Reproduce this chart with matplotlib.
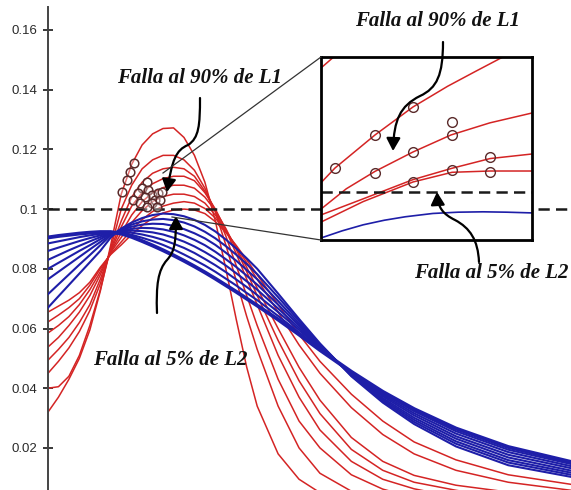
import matplotlib
matplotlib.use("Agg")
import matplotlib.pyplot as plt
from matplotlib.path import Path
from matplotlib.patches import FancyArrowPatch

# ---------------------------------------------------------------- data
# common time axis (arbitrary units)
t = [0.0, 0.2, 0.4, 0.6, 0.8, 1.0, 1.2, 1.4, 1.6, 1.8, 2.0, 2.2, 2.4, 2.6, 2.8,
     3.0, 3.2, 3.4, 3.6, 3.8, 4.0, 4.4, 4.8, 5.2, 5.8, 6.4, 7.0, 7.8, 8.8, 10.0]

# faults on line L1 (red family)
red_1 = [0.032, 0.037, 0.043, 0.050, 0.0595, 0.0725, 0.088, 0.105, 0.115, 0.1215,
         0.1252, 0.127, 0.1272, 0.124, 0.118, 0.109, 0.096, 0.080, 0.063, 0.047,
         0.034, 0.018, 0.0095, 0.005, 0.0025, 0.0012, 0.0006, 0.0003, 0.0001, 0.0]
red_2 = [0.040, 0.0405, 0.044, 0.051, 0.061, 0.073, 0.087, 0.100, 0.108, 0.1135,
         0.1165, 0.118, 0.118, 0.1165, 0.113, 0.107, 0.099, 0.088, 0.076, 0.064,
         0.053, 0.034, 0.020, 0.0115, 0.0055, 0.0027, 0.0013, 0.0005, 0.0002, 0.0]
red_3 = [0.045, 0.049, 0.0535, 0.059, 0.066, 0.075, 0.0865, 0.096, 0.104, 0.109,
         0.112, 0.1135, 0.114, 0.1135, 0.111, 0.106, 0.0995, 0.091, 0.081, 0.071,
         0.061, 0.043, 0.029, 0.020, 0.011, 0.0062, 0.0033, 0.0015, 0.0005, 0.0001]
red_4 = [0.0494, 0.053, 0.057, 0.062, 0.068, 0.0765, 0.086, 0.094, 0.101, 0.1055,
         0.1085, 0.1102, 0.111, 0.111, 0.1095, 0.1055, 0.100, 0.093, 0.085, 0.0765,
         0.068, 0.051, 0.037, 0.026, 0.0155, 0.0095, 0.0063, 0.0035, 0.0015, 0.0005]
red_5 = [0.0538, 0.057, 0.061, 0.0655, 0.071, 0.078, 0.0858, 0.092, 0.098, 0.1025,
         0.1055, 0.1072, 0.108, 0.108, 0.107, 0.104, 0.0995, 0.0935, 0.0865, 0.079,
         0.071, 0.056, 0.0425, 0.0315, 0.0195, 0.0125, 0.0085, 0.0058, 0.003, 0.0012]
red_6 = [0.0585, 0.061, 0.064, 0.068, 0.073, 0.079, 0.0855, 0.0905, 0.0955, 0.0995,
         0.1025, 0.1042, 0.105, 0.105, 0.1042, 0.102, 0.098, 0.093, 0.087, 0.0805,
         0.0735, 0.060, 0.047, 0.036, 0.0235, 0.0155, 0.0108, 0.0075, 0.0052, 0.003]
red_7 = [0.0622, 0.0645, 0.067, 0.070, 0.0745, 0.080, 0.085, 0.089, 0.093, 0.0965,
         0.0992, 0.101, 0.102, 0.1025, 0.102, 0.1002, 0.097, 0.0925, 0.0875, 0.082,
         0.0765, 0.0655, 0.0545, 0.045, 0.0335, 0.0245, 0.018, 0.0125, 0.0085, 0.0058]
red_8 = [0.0655, 0.0675, 0.0695, 0.072, 0.0755, 0.0805, 0.0848, 0.088, 0.0915, 0.0945,
         0.097, 0.0987, 0.0997, 0.100, 0.0997, 0.0985, 0.0958, 0.0922, 0.0878, 0.083,
         0.078, 0.068, 0.058, 0.049, 0.038, 0.029, 0.022, 0.016, 0.011, 0.0078]

# faults on line L2 (blue family)
blue_1 = [0.0905, 0.0910, 0.0914, 0.0918, 0.0921, 0.0923, 0.0923, 0.0918, 0.0907, 0.0893,
          0.0878, 0.0862, 0.0845, 0.0827, 0.0808, 0.0788, 0.0767, 0.0745, 0.0723, 0.0700,
          0.0677, 0.0630, 0.0580, 0.0528, 0.0455, 0.0388, 0.0330, 0.0265, 0.0203, 0.0153]
blue_2 = [0.0885, 0.0892, 0.0899, 0.0906, 0.0912, 0.0917, 0.0921, 0.0920, 0.0914, 0.0904,
          0.0893, 0.0880, 0.0865, 0.0848, 0.0830, 0.0811, 0.0790, 0.0767, 0.0744, 0.0719,
          0.0695, 0.0642, 0.0587, 0.0531, 0.0453, 0.0383, 0.0323, 0.0256, 0.0194, 0.0146]
blue_3 = [0.0860, 0.0871, 0.0882, 0.0893, 0.0903, 0.0912, 0.0920, 0.0923, 0.0921, 0.0915,
          0.0907, 0.0897, 0.0884, 0.0870, 0.0853, 0.0833, 0.0812, 0.0789, 0.0764, 0.0739,
          0.0712, 0.0655, 0.0595, 0.0534, 0.0451, 0.0378, 0.0316, 0.0248, 0.0186, 0.0139]
blue_4 = [0.0830, 0.0846, 0.0862, 0.0877, 0.0892, 0.0906, 0.0919, 0.0925, 0.0928, 0.0926,
          0.0922, 0.0915, 0.0904, 0.0891, 0.0875, 0.0856, 0.0835, 0.0811, 0.0785, 0.0758,
          0.0730, 0.0667, 0.0602, 0.0537, 0.0449, 0.0373, 0.0309, 0.0239, 0.0177, 0.0132]
blue_5 = [0.0800, 0.0820, 0.0840, 0.0860, 0.0879, 0.0899, 0.0918, 0.0928, 0.0934, 0.0937,
          0.0936, 0.0932, 0.0924, 0.0912, 0.0897, 0.0879, 0.0857, 0.0832, 0.0806, 0.0777,
          0.0747, 0.0680, 0.0610, 0.0541, 0.0446, 0.0367, 0.0301, 0.0231, 0.0168, 0.0124]
blue_6 = [0.0765, 0.0790, 0.0815, 0.0840, 0.0865, 0.0890, 0.0915, 0.0930, 0.0941, 0.0948,
          0.0951, 0.0950, 0.0944, 0.0933, 0.0919, 0.0902, 0.0880, 0.0854, 0.0827, 0.0796,
          0.0765, 0.0692, 0.0617, 0.0544, 0.0444, 0.0362, 0.0294, 0.0222, 0.0159, 0.0117]
blue_7 = [0.0715, 0.0748, 0.0781, 0.0814, 0.0846, 0.0879, 0.0912, 0.0933, 0.0948, 0.0959,
          0.0965, 0.0967, 0.0963, 0.0955, 0.0942, 0.0924, 0.0902, 0.0876, 0.0847, 0.0816,
          0.0782, 0.0705, 0.0625, 0.0547, 0.0442, 0.0357, 0.0287, 0.0214, 0.0151, 0.0110]
blue_8 = [0.0670, 0.0708, 0.0746, 0.0784, 0.0822, 0.0860, 0.0905, 0.0935, 0.0955, 0.0970,
          0.0980, 0.0985, 0.0983, 0.0976, 0.0964, 0.0947, 0.0925, 0.0898, 0.0868, 0.0835,
          0.0800, 0.0717, 0.0632, 0.0550, 0.0440, 0.0352, 0.0280, 0.0205, 0.0142, 0.0103]

# operating points marked on the L1 curves
mark_t = [1.644, 1.568, 1.510, 1.415, 1.893, 1.797, 1.721, 1.625, 1.912, 1.989,
          2.046, 1.855, 1.989, 2.103, 2.141, 2.180, 2.084, 1.759, 1.893]
mark_v = [0.1155, 0.1124, 0.1097, 0.1057, 0.1091, 0.1071, 0.1054, 0.1030, 0.1064, 0.1047,
          0.1030, 0.1041, 0.1020, 0.1054, 0.1030, 0.1057, 0.1007, 0.1020, 0.1007]

threshold = 0.1
y_ticks = [0.02, 0.04, 0.06, 0.08, 0.1, 0.12, 0.14, 0.16]
y_tick_labels = ["0.02", "0.04", "0.06", "0.08", "0.1", "0.12", "0.14", "0.16"]

# detail view (normalised coordinates of the enlarged window)
zoom_r0_u = [0.0, 0.06, 0.12]
zoom_r0_w = [0.94, 1.0, 1.06]
zoom_r1_u = [0.0, 0.066, 0.256, 0.436, 0.6, 0.73, 0.862, 0.95]
zoom_r1_w = [0.313, 0.393, 0.574, 0.727, 0.84, 0.92, 1.0, 1.05]
zoom_r2_u = [0.0, 0.12, 0.256, 0.436, 0.616, 0.8, 1.0]
zoom_r2_w = [0.169, 0.28, 0.375, 0.481, 0.574, 0.64, 0.694]
zoom_r3_u = [0.0, 0.2, 0.436, 0.621, 0.801, 1.0]
zoom_r3_w = [0.137, 0.225, 0.33, 0.392, 0.445, 0.47]
zoom_r4_u = [0.0, 0.2, 0.436, 0.621, 0.801, 1.0]
zoom_r4_w = [0.098, 0.21, 0.317, 0.37, 0.377, 0.377]
zoom_b_u = [0.0, 0.1, 0.2, 0.3, 0.4, 0.53, 0.65, 0.768, 0.88, 1.0]
zoom_b_w = [0.011, 0.05, 0.083, 0.108, 0.127, 0.145, 0.152, 0.154, 0.152, 0.148]
zoom_threshold = 0.262
zoom_mark_u = [0.066, 0.256, 0.436, 0.621, 0.621, 0.256, 0.436, 0.621, 0.801, 0.801, 0.436]
zoom_mark_w = [0.393, 0.574, 0.727, 0.645, 0.574, 0.366, 0.481, 0.383, 0.454, 0.372, 0.317]

# ---------------------------------------------------------------- style
RED = "#d42424"
BLUE = "#1e1ea8"
MARK = "#5a2a2a"
W, H = 571, 490

fig = plt.figure(figsize=(W / 100, H / 100), dpi=100)

ax = fig.add_axes([48 / W, 0, (W - 48) / W, 483 / H], zorder=1)
for r in [red_1, red_2, red_3, red_4, red_5, red_6, red_7, red_8]:
    ax.plot(t, r, color=RED, lw=1.1, zorder=2)
for b in [blue_2, blue_3, blue_4, blue_5, blue_6, blue_7, blue_8]:
    ax.plot(t, b, color=BLUE, lw=1.5, zorder=3)
ax.plot(t, blue_1, color=BLUE, lw=2.8, zorder=3)
ax.axhline(threshold, color="#1a1a1a", lw=1.8, ls=(0, (4.5, 2.5)), zorder=4)
ax.plot(mark_t, mark_v, "o", ms=6.2, mfc=(1, 1, 1, 0.35), mec=MARK, mew=1.1, zorder=5)

ax.set_xlim(0, 10)
ax.set_ylim(0.0059, 0.1677)
for s in ("top", "right", "bottom"):
    ax.spines[s].set_visible(False)
ax.spines["left"].set_color("#444444")
ax.spines["left"].set_linewidth(1.4)
ax.set_xticks([])
ax.set_yticks(y_ticks)
ax.set_yticklabels(y_tick_labels, fontfamily="Liberation Sans")
ax.tick_params(axis="y", direction="inout", length=7, width=1.3,
               colors="#2a2a2a", labelsize=9.5, pad=4)

# enlarged window
axin = fig.add_axes([321 / W, (H - 240) / H, 211 / W, 183 / H], zorder=5)
axin.set_facecolor("white")
for u, w in [(zoom_r0_u, zoom_r0_w), (zoom_r1_u, zoom_r1_w), (zoom_r2_u, zoom_r2_w),
             (zoom_r3_u, zoom_r3_w), (zoom_r4_u, zoom_r4_w)]:
    axin.plot(u, w, color=RED, lw=1.1)
axin.plot(zoom_b_u, zoom_b_w, color=BLUE, lw=1.2)
axin.axhline(zoom_threshold, color="#1a1a1a", lw=1.8, ls=(0, (4.5, 2.5)))
axin.plot(zoom_mark_u, zoom_mark_w, "o", ms=7, mfc="none", mec=MARK, mew=1.0)
axin.set_xlim(0, 1)
axin.set_ylim(0, 1)
axin.set_xticks([])
axin.set_yticks([])
for s in axin.spines.values():
    s.set_linewidth(2)
    s.set_color("black")

# annotation layer in pixel units
note = fig.add_axes([0, 0, 1, 1], zorder=10)
note.set_xlim(0, W)
note.set_ylim(H, 0)
note.axis("off")
note.patch.set_alpha(0)

note.plot([163, 321], [173, 57], color="#333333", lw=0.9)
note.plot([172, 321], [217, 240], color="#333333", lw=0.9)

C4 = Path.CURVE4
arrows = [
    [(200, 98), (200, 125), (199, 138), (188, 145), (176, 150), (172, 160), (167, 192)],
    [(157, 313), (156, 285), (158, 270), (167, 260), (174, 252), (176, 245), (176, 216)],
    [(443, 42), (443, 75), (437, 88), (420, 96), (400, 106), (394, 120), (393, 151)],
    [(479, 262), (478, 240), (470, 228), (455, 220), (443, 214), (438, 208), (437, 192)],
]
for verts in arrows:
    p = Path(verts, [Path.MOVETO, C4, C4, C4, C4, C4, C4])
    note.add_patch(FancyArrowPatch(path=p, arrowstyle="-|>,head_length=0.55,head_width=0.3",
                                   mutation_scale=14, lw=1.6, color="black"))

font = dict(family="Liberation Serif", weight="bold", style="italic", size=15,
            color="#111111", ha="center", va="center")
note.text(200, 78, "Falla al 90% de L1", **font)
note.text(170, 360, "Falla al 5% de L2", **font)
note.text(438, 21, "Falla al 90% de L1", **font)
note.text(491, 273, "Falla al 5% de L2", **font)

fig.savefig("out.png", dpi=100)
